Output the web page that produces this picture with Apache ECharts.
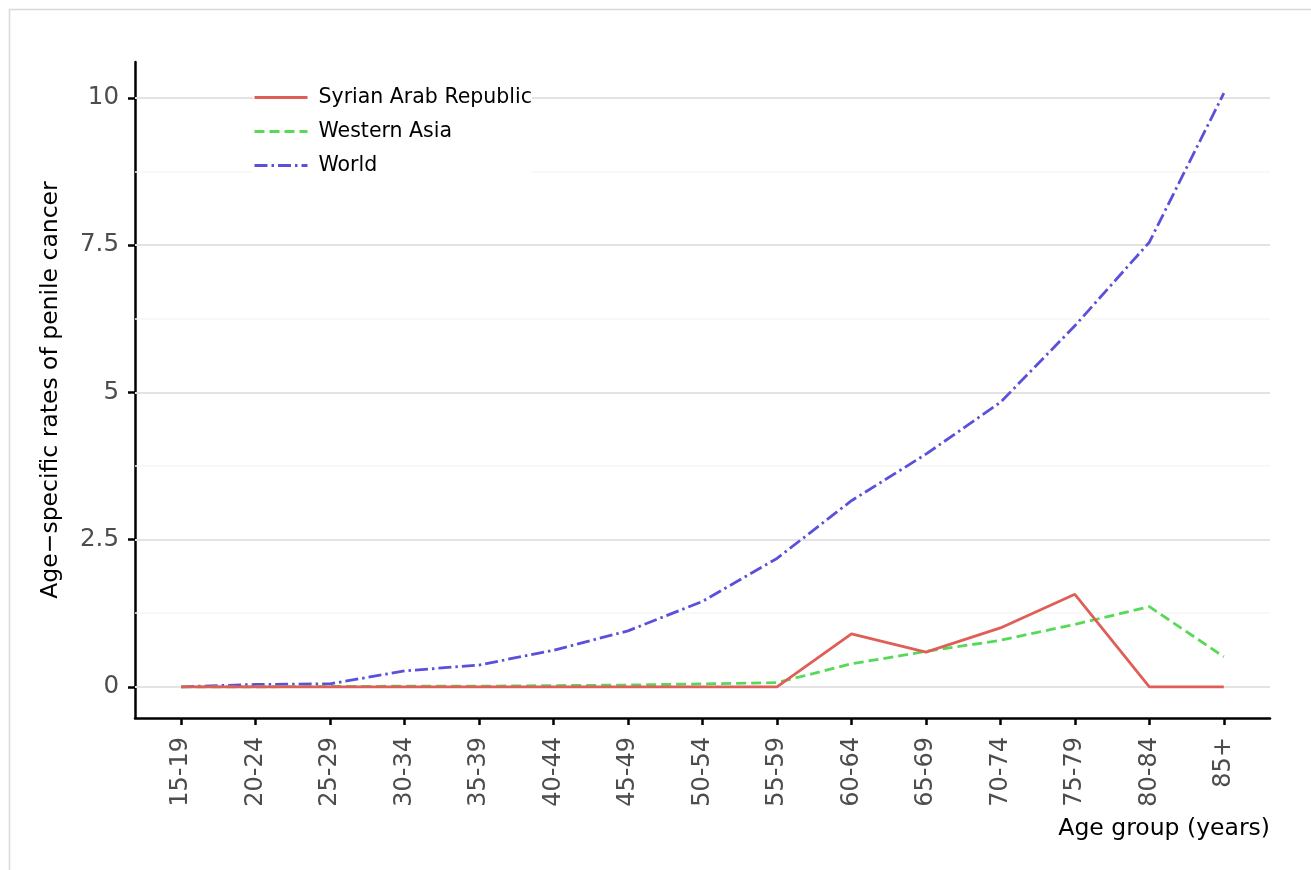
<!DOCTYPE html>
<html>
<head>
<meta charset="utf-8">
<script src="https://cdn.jsdelivr.net/npm/echarts@6/dist/echarts.min.js"></script>
<style>html,body{margin:0;padding:0;background:#fff}#c{width:1311px;height:870px}</style>
</head>
<body>
<div id="c"></div>
<script>
const categories = ['15-19','20-24','25-29','30-34','35-39','40-44','45-49','50-54','55-59','60-64','65-69','70-74','75-79','80-84','85+'];
const syria = [0, 0, 0, 0, 0, 0, 0, 0, 0, 0.90, 0.59, 1.00, 1.57, 0, 0];
const westernAsia = [0, 0, 0.005, 0.01, 0.01, 0.02, 0.03, 0.05, 0.07, 0.39, 0.60, 0.79, 1.06, 1.36, 0.51];
const world = [0, 0.04, 0.05, 0.27, 0.37, 0.62, 0.95, 1.45, 2.18, 3.16, 3.95, 4.83, 6.13, 7.55, 10.08];
const yTicks = [0, 2.5, 5, 7.5, 10];
const yMinor = [1.25, 3.75, 6.25, 8.75];

const FONT = 'DejaVu Sans';
const idx = categories.map((_, i) => i);
const pairs = arr => arr.map((v, i) => [i, v]);

const gridLines = {
  silent: true, symbol: 'none', label: {show: false}, z: 1,
  data: [
    ...yMinor.map(v => ({yAxis: v, lineStyle: {color: '#f6f6f6', width: 1.5, type: 'solid'}})),
    ...yTicks.map(v => ({yAxis: v, lineStyle: {color: '#e3e3e3', width: 2, type: 'solid'}}))
  ]
};

const chart = echarts.init(document.getElementById('c'), null, {renderer: 'canvas'});
chart.setOption({
  animation: false,
  backgroundColor: '#fff',
  textStyle: {fontFamily: FONT},
  grid: {left: 135, right: 41, top: 62, bottom: 152, containLabel: false},
  legend: {
    orient: 'vertical', left: 253, top: 87, padding: 0, z: 10,
    backgroundColor: '#fff',
    itemWidth: 53, itemHeight: 20, itemGap: 13,
    itemStyle: {opacity: 0},
    lineStyle: {width: 3},
    textStyle: {fontFamily: FONT, fontSize: 20.5, color: '#000', lineHeight: 20, padding: [0, 0, 0, 6]},
    data: ['Syrian Arab Republic', 'Western Asia', 'World']
  },
  xAxis: {
    type: 'value', min: -0.62, max: 14.62,
    splitLine: {show: false},
    axisLine: {show: true, onZero: false, lineStyle: {color: '#000', width: 2.5}},
    axisTick: {show: true, length: 7, customValues: idx, lineStyle: {color: '#000', width: 2.5}},
    axisLabel: {
      customValues: idx, rotate: 90, margin: 19, fontSize: 24, color: '#4d4d4d', fontFamily: FONT,
      formatter: v => categories[Math.round(v)] || ''
    }
  },
  yAxis: {
    type: 'value', min: -0.53, max: 10.61,
    name: 'Age\u2212specific rates of penile cancer', nameLocation: 'middle', nameGap: 72,
    nameTextStyle: {fontSize: 23.5, color: '#000', fontFamily: FONT},
    splitLine: {show: false},
    axisLine: {show: true, onZero: false, lineStyle: {color: '#000', width: 2.5}},
    axisTick: {show: true, length: 7, customValues: yTicks, lineStyle: {color: '#000', width: 2.5}},
    axisLabel: {customValues: yTicks, margin: 16, fontSize: 24.5, color: '#4d4d4d', fontFamily: FONT,
      formatter: v => String(v)}
  },
  graphic: [
    {type: 'rect', left: 7, top: 7, shape: {width: 1330, height: 900}, style: {fill: 'none', stroke: '#d9d9d9', lineWidth: 1.5}, z: -10, silent: true},
    {type: 'text', right: 41, top: 817, style: {text: 'Age group (years)', font: '23.5px "DejaVu Sans"', fill: '#000'}}
  ],
  series: [
    {
      name: 'Grid', type: 'line', data: [], markLine: gridLines, z: 0, silent: true
    },
    {
      name: 'Syrian Arab Republic', type: 'line', data: pairs(syria), symbol: 'none', z: 5,
      lineStyle: {color: '#df5f58', width: 2.8, type: 'solid'}, itemStyle: {color: '#df5f58'}
    },
    {
      name: 'Western Asia', type: 'line', data: pairs(westernAsia), symbol: 'none', z: 4,
      lineStyle: {color: '#57d958', width: 2.8, type: [10, 5]}, itemStyle: {color: '#57d958'}
    },
    {
      name: 'World', type: 'line', data: pairs(world), symbol: 'none', z: 3,
      lineStyle: {color: '#5b50dc', width: 2.8, type: [13, 4, 2.5, 4]}, itemStyle: {color: '#5b50dc'}
    }
  ]
});
</script>
</body>
</html>
